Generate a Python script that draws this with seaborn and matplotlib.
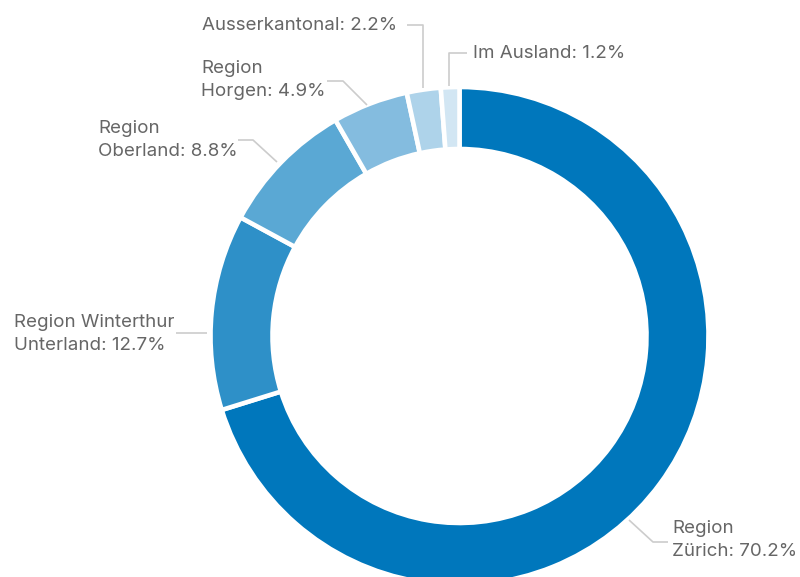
import matplotlib
matplotlib.use("Agg")
import matplotlib.pyplot as plt
import seaborn as sns

# ---- data ----
categories = ["Region Zürich", "Region Winterthur Unterland", "Region Oberland",
              "Region Horgen", "Ausserkantonal", "Im Ausland"]
values = [70.2, 12.7, 8.8, 4.9, 2.2, 1.2]
label_texts = ["Region\nZürich: 70.2%", "Region Winterthur\nUnterland: 12.7%",
               "Region\nOberland: 8.8%", "Region\nHorgen: 4.9%",
               "Ausserkantonal: 2.2%", "Im Ausland: 1.2%"]
colors = ["#0077BC", "#2E90C8", "#5AA8D4", "#84BCDF", "#AED3EA", "#D2E6F3"]

# ---- layout (pixel coordinates, y from top) ----
W, H = 800, 577
CX, CY = 459.5, 336
R_OUT, WIDTH = 249, 62
label_pos = [(672, 540), (14, 334), (98, 140), (201, 80), (202, 25), (473, 53)]
connectors = [
    [(629, 520), (653, 542), (668, 542)],
    [(176, 333), (207, 333)],
    [(238, 140), (253, 140), (277, 162)],
    [(327, 81), (343, 81), (367, 105)],
    [(407, 25), (423, 25), (423, 88)],
    [(449, 86), (449, 53), (467, 53)],
]

sns.set_theme(style="white")
plt.rcParams["font.family"] = ["Inter", "DejaVu Sans"]

fig = plt.figure(figsize=(W / 100, H / 100), dpi=100)
ax = fig.add_axes([0, 0, 1, 1])

def Y(y):
    return H - y

ax.pie(values, colors=colors, startangle=90, counterclock=False,
       radius=R_OUT, center=(CX, Y(CY)),
       wedgeprops=dict(width=WIDTH, edgecolor="white", linewidth=3.3))

for path in connectors:
    xs = [p[0] for p in path]
    ys = [Y(p[1]) for p in path]
    ax.plot(xs, ys, color="#cccccc", lw=1.2, solid_capstyle="butt", zorder=1)

for txt, (x, y) in zip(label_texts, label_pos):
    ax.text(x, Y(y), txt, ha="left", va="center", fontsize=13.5,
            color="#666666", linespacing=1.47)

ax.set_xlim(0, W)
ax.set_ylim(0, H)
ax.set_aspect("equal")
ax.axis("off")

fig.savefig("out.png", dpi=100, facecolor="white")
